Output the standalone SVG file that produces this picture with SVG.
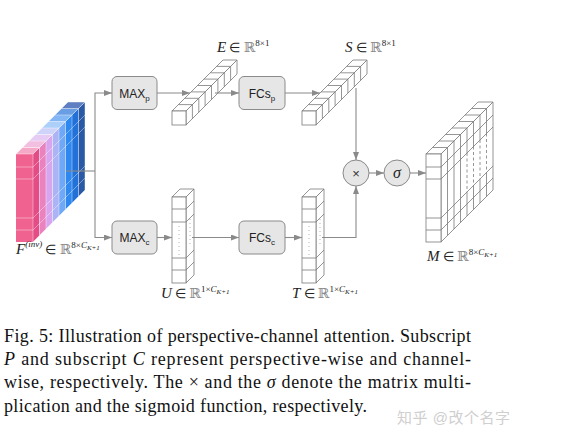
<svg xmlns="http://www.w3.org/2000/svg" width="561" height="440" viewBox="0 0 561 440">
<defs>
<style>
.box{fill:#e6e6e6;stroke:#8a8a8a;stroke-width:1}
.bl{font-family:"Liberation Sans",Arial,sans-serif;font-size:12px;fill:#222}
.con{fill:none;stroke:#8a8a8a;stroke-width:1.1}
.cell{fill:#fff;stroke:#7a7a7a;stroke-width:0.8}
.ln{stroke:#7a7a7a;stroke-width:0.8;fill:none}
.dash{stroke:#7a7a7a;stroke-width:0.8;fill:none;stroke-dasharray:3,2.5}
.dot{stroke:#aaa;stroke-width:0.9;fill:none;stroke-dasharray:1,3}
.wl{stroke:#fff;stroke-opacity:0.5;stroke-width:0.8;fill:none}
.m{font-family:"Liberation Serif","Times New Roman",serif;font-size:13px;fill:#222}
.it{font-style:italic;font-size:15px}
.bb{font-family:"DejaVu Serif","DejaVu Sans",serif;font-size:14px;fill:#8a8a8a}
.sp{font-size:9px}
.sb{font-size:7px;font-style:italic}
.cap{font-family:"Liberation Serif","Times New Roman",serif;font-size:18px;fill:#111}
</style>
<marker id="ah" markerWidth="8" markerHeight="6" refX="8" refY="3" orient="auto" markerUnits="userSpaceOnUse">
<path d="M0,0 L8,3 L0,6 z" fill="#8a8a8a"/>
</marker>
</defs>
<rect width="561" height="440" fill="#fff"/>

<g id="F">
<rect x="16" y="154" width="17" height="88" fill="#f0628f"/>
<polygon points="33,154 39.5,147.5 39.5,235.5 33,242" fill="#e44c86"/>
<polygon points="39.5,147.5 46,141 46,229 39.5,235.5" fill="#ea82c0"/>
<polygon points="46,141 52.5,134.5 52.5,222.5 46,229" fill="#d7a6ee"/>
<polygon points="52.5,134.5 59,128 59,216 52.5,222.5" fill="#adb4f6"/>
<polygon points="59,128 65.5,121.5 65.5,209.5 59,216" fill="#6ea8f7"/>
<polygon points="65.5,121.5 72,115 72,203 65.5,209.5" fill="#2f88ef"/>
<polygon points="72,115 78.5,108.5 78.5,196.5 72,203" fill="#2171d8"/>
<polygon points="78.5,108.5 85,102 85,190 78.5,196.5" fill="#2a5aa6"/>
<polygon points="16,154 33,154 39.5,147.5 22.5,147.5" fill="#f5a9c6"/>
<polygon points="22.5,147.5 39.5,147.5 46,141 29,141" fill="#f3bfe0"/>
<polygon points="29,141 46,141 52.5,134.5 35.5,134.5" fill="#e6cbf4"/>
<polygon points="35.5,134.5 52.5,134.5 59,128 42,128" fill="#cfd3f9"/>
<polygon points="42,128 59,128 65.5,121.5 48.5,121.5" fill="#acd0fa"/>
<polygon points="48.5,121.5 65.5,121.5 72,115 55,115" fill="#82b6f4"/>
<polygon points="55,115 72,115 78.5,108.5 61.5,108.5" fill="#6a9ee4"/>
<polygon points="61.5,108.5 78.5,108.5 85,102 68,102" fill="#5f7fc2"/>
<path class="wl" d="M16,167 H33 L85,115 M16,179 H33 L85,127 M16,218 H33 L85,166 M16,230 H33 L85,178"/>
<path class="wl" d="M39.5,147.5 V235.5 M46,141 V229 M52.5,134.5 V222.5 M59,128 V216 M65.5,121.5 V209.5 M72,115 V203 M78.5,108.5 V196.5"/>
<path class="wl" d="M22.5,147.5 H39.5 M29,141 H46 M35.5,134.5 H52.5 M42,128 H59 M48.5,121.5 H65.5 M55,115 H72 M61.5,108.5 H78.5"/>
<path class="wl" d="M16,154 H33 L85,102 H68 Z M33,154 V242 L85,190 V102"/>
</g>

<g id="MAXp">
<rect class="box" x="112" y="76.5" width="45" height="33" rx="5"/>
<text class="bl" x="134.5" y="97.5" text-anchor="middle">MAX<tspan font-size="8" dy="3">p</tspan></text>
</g>
<g id="MAXc">
<rect class="box" x="112" y="221" width="45" height="33" rx="5"/>
<text class="bl" x="134.5" y="242" text-anchor="middle">MAX<tspan font-size="8" dy="3">c</tspan></text>
</g>
<g id="FCsp">
<rect class="box" x="239" y="76.5" width="46" height="33" rx="5"/>
<text class="bl" x="262" y="97.5" text-anchor="middle">FCs<tspan font-size="8" dy="3">p</tspan></text>
</g>
<g id="FCsc">
<rect class="box" x="239" y="221" width="46" height="33" rx="5"/>
<text class="bl" x="262" y="242" text-anchor="middle">FCs<tspan font-size="8" dy="3">c</tspan></text>
</g>

<g id="E">
<polygon class="cell" points="172,111 223,60 237,60 186,111"/>
<polygon class="cell" points="186,111 237,60 237,74 186,125"/>
<rect class="cell" x="172" y="111" width="14" height="14"/>
<path class="ln" d="M178.4,104.6 H192.4 V118.6 M184.8,98.3 H198.8 V112.3 M191.1,91.9 H205.1 V105.9 M197.5,85.5 H211.5 V99.5 M203.9,79.1 H217.9 V93.1 M210.3,72.8 H224.3 V86.8 M216.6,66.4 H230.6 V80.4"/>
</g>
<g id="S">
<polygon class="cell" points="302,111 353,60 367,60 316,111"/>
<polygon class="cell" points="316,111 367,60 367,74 316,125"/>
<rect class="cell" x="302" y="111" width="14" height="14"/>
<path class="ln" d="M308.4,104.6 H322.4 V118.6 M314.8,98.3 H328.8 V112.3 M321.1,91.9 H335.1 V105.9 M327.5,85.5 H341.5 V99.5 M333.9,79.1 H347.9 V93.1 M340.3,72.8 H354.3 V86.8 M346.6,66.4 H360.6 V80.4"/>
</g>

<g id="U">
<polygon class="cell" points="172,197 180,189 194,189 186,197"/>
<polygon class="cell" points="186,197 194,189 194,275 186,283"/>
<rect class="cell" x="172" y="197" width="14" height="86"/>
<path class="ln" d="M172,209 H186 L194,201 M172,222 H186 L194,214 M172,258 H186 L194,250 M172,270 H186 L194,262"/>
<path class="dot" d="M179,226 V255 M190,219 V247"/>
</g>
<g id="T">
<polygon class="cell" points="302,197 310,189 324,189 316,197"/>
<polygon class="cell" points="316,197 324,189 324,275 316,283"/>
<rect class="cell" x="302" y="197" width="14" height="86"/>
<path class="ln" d="M302,209 H316 L324,201 M302,222 H316 L324,214 M302,258 H316 L324,250 M302,270 H316 L324,262"/>
<path class="dot" d="M309,226 V255 M320,219 V247"/>
</g>

<g id="mul">
<circle class="box" cx="356" cy="173" r="13"/>
<text x="356" y="177.5" text-anchor="middle" font-family="Liberation Sans,Arial,sans-serif" font-size="13" fill="#333">×</text>
</g>
<g id="sigma">
<circle class="box" cx="397" cy="173" r="13"/>
<text x="397" y="177.5" text-anchor="middle" font-family="Liberation Serif,serif" font-style="italic" font-size="16" fill="#222">σ</text>
</g>

<g id="M">
<polygon class="cell" points="426,154 478,102 493,102 441,154"/>
<polygon class="cell" points="441,154 493,102 493,190 441,242"/>
<rect class="cell" x="426" y="154" width="15" height="88"/>
<path class="ln" d="M432.5,147.5 H447.5 M439,141 H454 M445.5,134.5 H460.5 M452,128 H467 M458.5,121.5 H473.5 M465,115 H480 M471.5,108.5 H486.5"/>
<path class="ln" d="M426,167 H441 L493,115 M426,179 H441 L493,127 M426,218 H441 L493,166 M426,230 H441 L493,178"/>
<path class="ln" d="M447.5,147.5 V235.5 M454,141 V229 M460.5,134.5 V222.5"/>
<path class="ln" d="M467,128 V153 M467,192 V216 M473.5,121.5 V146.5 M473.5,185.5 V209.5 M480,115 V140 M480,179 V203 M486.5,108.5 V133.5 M486.5,172.5 V196.5"/>
<path class="dash" d="M467,153 V192 M473.5,146.5 V185.5 M480,140 V179 M486.5,133.5 V172.5"/>
</g>

<g id="connectors">
<path class="con" d="M66,171 H95"/>
<path class="con" d="M95,171 V93 H112" marker-end="url(#ah)"/>
<path class="con" d="M95,171 V237.5 H112" marker-end="url(#ah)"/>
<path class="con" d="M157,93 H190" marker-end="url(#ah)"/>
<path class="con" d="M215,93 H239" marker-end="url(#ah)"/>
<path class="con" d="M285,93 H320" marker-end="url(#ah)"/>
<path class="con" d="M356,88 V160" marker-end="url(#ah)"/>
<path class="con" d="M157,237.5 H172" marker-end="url(#ah)"/>
<path class="con" d="M192,237.5 H239" marker-end="url(#ah)"/>
<path class="con" d="M285,237.5 H302" marker-end="url(#ah)"/>
<path class="con" d="M322,237.5 H356 V186" marker-end="url(#ah)"/>
<path class="con" d="M369,173 H384" marker-end="url(#ah)"/>
<path class="con" d="M410,173 H426" marker-end="url(#ah)"/>
</g>

<g id="labels">
<text class="m" x="217" y="52"><tspan class="it">E</tspan> ∈ <tspan class="bb">ℝ</tspan><tspan class="sp" dy="-6">8×1</tspan></text>
<text class="m" x="345" y="52"><tspan class="it">S</tspan> ∈ <tspan class="bb">ℝ</tspan><tspan class="sp" dy="-6">8×1</tspan></text>
<text class="m" x="16" y="254"><tspan class="it" font-size="16">F</tspan><tspan font-size="9" font-style="italic" dy="-7">(inv)</tspan><tspan dy="7"> ∈ </tspan><tspan class="bb">ℝ</tspan><tspan class="sp" dy="-6">8×</tspan><tspan class="sp" font-style="italic">C</tspan><tspan class="sb" dy="2">K+1</tspan></text>
<text class="m" x="161" y="298"><tspan class="it">U</tspan> ∈ <tspan class="bb">ℝ</tspan><tspan class="sp" dy="-6">1×</tspan><tspan class="sp" font-style="italic">C</tspan><tspan class="sb" dy="2">K+1</tspan></text>
<text class="m" x="292" y="298"><tspan class="it">T</tspan> ∈ <tspan class="bb">ℝ</tspan><tspan class="sp" dy="-6">1×</tspan><tspan class="sp" font-style="italic">C</tspan><tspan class="sb" dy="2">K+1</tspan></text>
<text class="m" x="427" y="261"><tspan class="it" font-size="16">M</tspan> ∈ <tspan class="bb">ℝ</tspan><tspan class="sp" dy="-6">8×</tspan><tspan class="sp" font-style="italic">C</tspan><tspan class="sb" dy="2">K+1</tspan></text>
</g>

<g id="caption">
<text class="cap" x="4" y="342" textLength="467" lengthAdjust="spacing">Fig. 5: Illustration of perspective-channel attention. Subscript</text>
<text class="cap" x="4" y="365" textLength="467" lengthAdjust="spacing"><tspan font-style="italic">P</tspan> and subscript <tspan font-style="italic">C</tspan> represent perspective-wise and channel-</text>
<text class="cap" x="4" y="388" textLength="467" lengthAdjust="spacing">wise, respectively. The × and the <tspan font-style="italic">σ</tspan> denote the matrix multi-</text>
<text class="cap" x="4" y="411.5" textLength="363" lengthAdjust="spacing">plication and the sigmoid function, respectively.</text>
<text x="397" y="423" font-family="Liberation Sans,Noto Sans CJK SC,sans-serif" font-size="15" fill="#cfcfcf" textLength="113" lengthAdjust="spacing">知乎 @改个名字</text>
</g>
</svg>
